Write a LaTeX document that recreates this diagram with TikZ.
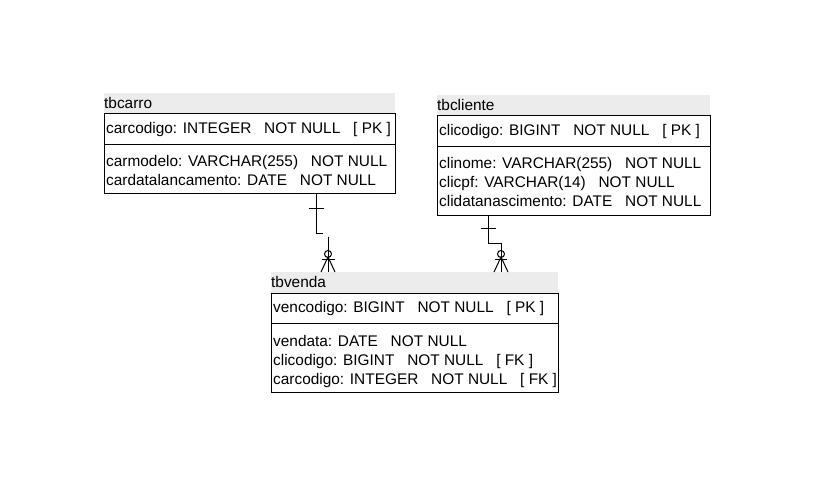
\documentclass[tikz,border=0pt]{standalone}
\usepackage{fontspec}
\setmainfont{Liberation Sans}
\definecolor{hdr}{RGB}{236,236,236}
\begin{document}
\begin{tikzpicture}[x=1pt,y=-1pt,
  txt/.style={anchor=base west, inner sep=0pt, font=\fontsize{15.4}{18}\selectfont},
  hdrbox/.style={fill=hdr, draw=none, anchor=north west, inner sep=0pt, minimum height=20pt},
  tbl/.style={draw=black, line width=1pt, anchor=north west, inner sep=0pt},
  conn/.style={draw=black, line width=1pt}]
\useasboundingbox[fill=white] (0,0) rectangle (836,502);

% ---------- tbcarro ----------
\node[hdrbox, minimum width=291pt] (carroH) at (104,93) {};
\node[txt] (carroT) at (104,109) {tbcarro};
\node[tbl, minimum width=291pt, minimum height=80pt] (carro) at (104,113) {};
\draw[line width=1pt] ([yshift=-32pt]carro.north west) -- ([yshift=-32pt]carro.north east);
\node[txt] (c1) at (106,134) {carcodigo: INTEGER~~~NOT NULL~~~[ PK ]};
\node[txt] (c2) at (106,167) {carmodelo: VARCHAR(255)~~~NOT NULL};
\node[txt] (c3) at (106,186) {cardatalancamento: DATE~~~NOT NULL};

% ---------- tbcliente ----------
\node[hdrbox, minimum width=273pt] (cliH) at (437,95) {};
\node[txt] (cliT) at (437,111) {tbcliente};
\node[tbl, minimum width=273pt, minimum height=100pt] (cli) at (437,115) {};
\draw[line width=1pt] ([yshift=-32pt]cli.north west) -- ([yshift=-32pt]cli.north east);
\node[txt] (l1) at (439,136) {clicodigo: BIGINT~~~NOT NULL~~~[ PK ]};
\node[txt] (l2) at (439,169) {clinome: VARCHAR(255)~~~NOT NULL};
\node[txt] (l3) at (439,188) {clicpf: VARCHAR(14)~~~NOT NULL};
\node[txt] (l4) at (439,207) {clidatanascimento: DATE~~~NOT NULL};

% ---------- tbvenda ----------
\node[hdrbox, minimum width=287pt, minimum height=21pt] (vendaH) at (271,272) {};
\node[txt] (vendaT) at (271,288) {tbvenda};
\node[tbl, minimum width=287pt, minimum height=99pt] (venda) at (271,293) {};
\draw[line width=1pt] ([yshift=-31pt]venda.north west) -- ([yshift=-31pt]venda.north east);
\node[txt] (v1) at (273,313) {vencodigo: BIGINT~~~NOT NULL~~~[ PK ]};
\node[txt] (v2) at (273,347) {vendata: DATE~~~NOT NULL};
\node[txt] (v3) at (273,366) {clicodigo: BIGINT~~~NOT NULL~~~[ FK ]};
\node[txt] (v4) at (273,385) {carcodigo: INTEGER~~~NOT NULL~~~[ FK ]};

% ---------- connector tbcarro -> tbvenda ----------
\coordinate (xa) at (316,0);
\coordinate (xb) at (328,0);
\coordinate (a1) at (316,234);
\coordinate (a2) at (323,234);
\coordinate (a3) at (328,237);
\draw[conn] (carro.south -| xa) -- (a1) -- (a2);
\draw[conn] (a3) -- (vendaH.north -| xb);
\draw[conn] (309,209) -- (324,209);
\draw[conn] (328,254) circle[radius=3.5pt];
\draw[conn] (322,260) -- (335,260);
\draw[conn] (321,272) -- (328,257) -- (335,272);

% ---------- connector tbcliente -> tbvenda ----------
\coordinate (xc) at (488,0);
\coordinate (xd) at (501,0);
\coordinate (b1) at (488,244);
\coordinate (b2) at (501,244);
\draw[conn] (cli.south -| xc) -- (b1) -- (b2) -- (vendaH.north -| xd);
\draw[conn] (481,229) -- (496,229);
\draw[conn] (501,254) circle[radius=3.5pt];
\draw[conn] (495,260) -- (507,260);
\draw[conn] (494,272) -- (501,257) -- (508,272);
\end{tikzpicture}
\end{document}
